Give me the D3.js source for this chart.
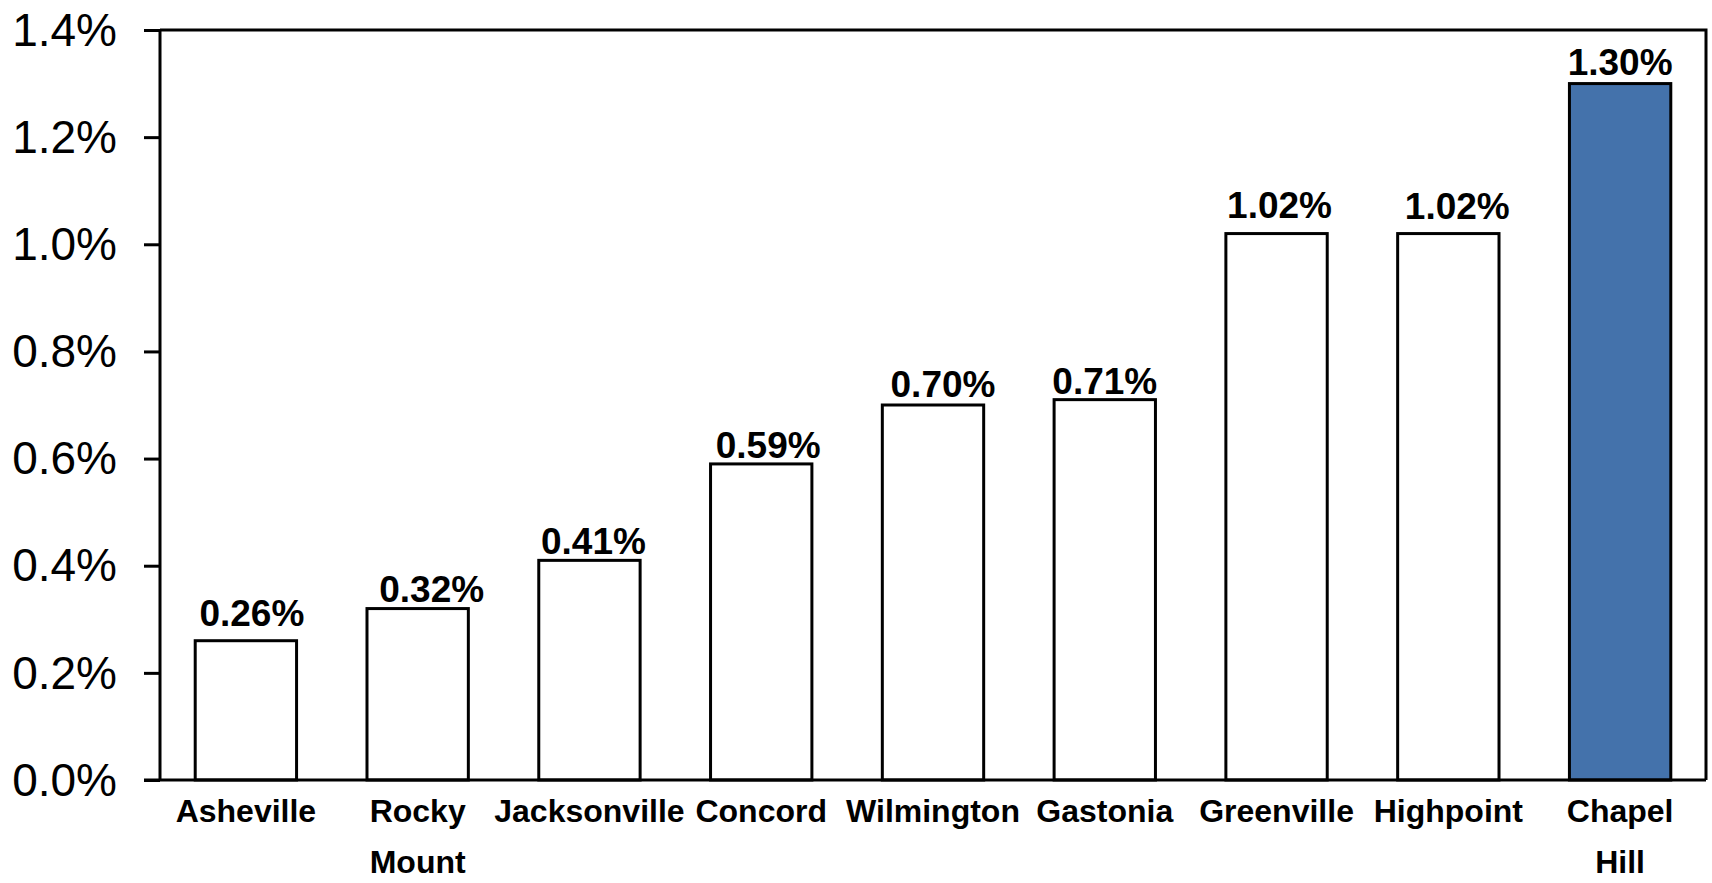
<!DOCTYPE html>
<html>
<head>
<meta charset="utf-8">
<script src="https://cdn.jsdelivr.net/npm/d3@7/dist/d3.min.js"></script>
<style>
  html, body { margin: 0; padding: 0; background: #ffffff; }
  svg { display: block; font-family: "Liberation Sans", Arial, sans-serif; }
</style>
</head>
<body>
<svg id="chart" width="1712" height="883"></svg>
<script>
// Annual rate by city (percent)
const cities = ["Asheville", "Rocky Mount", "Jacksonville", "Concord", "Wilmington",
                "Gastonia", "Greenville", "Highpoint", "Chapel Hill"];
const rates = [0.26, 0.32, 0.41, 0.59, 0.70, 0.71, 1.02, 1.02, 1.30];
const yTicks = [0, 0.2, 0.4, 0.6, 0.8, 1.0, 1.2, 1.4];
const highlightCity = "Chapel Hill";

// Layout
const W = 1712, H = 883;
const plot = { left: 160, top: 30, right: 1706, bottom: 780 };
// small hand placement of the value labels above each bar (px)
const valueLabelDx = [6, 14, 4, 7, 10, 0, 3, 9, 0];
const valueLabelGap = [15, 7, 6, 6, 8, 6, 16, 15, 9];

const svg = d3.select("#chart");

const x = d3.scaleBand()
  .domain(cities)
  .range([plot.left, plot.right])
  .paddingInner(0.41)
  .paddingOuter(0.205);

const y = d3.scaleLinear()
  .domain([0, 1.4])
  .range([plot.bottom, plot.top]);

// Plot frame (top and right edges)
svg.append("path")
  .attr("d", `M${plot.left},${plot.top}H${plot.right}V${plot.bottom}`)
  .attr("fill", "none")
  .attr("stroke", "#000")
  .attr("stroke-width", 3);

// Bars
svg.append("g")
  .selectAll("rect")
  .data(cities)
  .join("rect")
  .attr("x", d => x(d))
  .attr("width", x.bandwidth())
  .attr("y", (d, i) => y(rates[i]))
  .attr("height", (d, i) => y(0) - y(rates[i]))
  .attr("fill", d => d === highlightCity ? "#4472ab" : "#ffffff")
  .attr("stroke", "#000")
  .attr("stroke-width", 3);

// Value labels
svg.append("g")
  .selectAll("text")
  .data(cities)
  .join("text")
  .attr("x", (d, i) => x(d) + x.bandwidth() / 2 + valueLabelDx[i])
  .attr("y", (d, i) => y(rates[i]) - valueLabelGap[i])
  .attr("text-anchor", "middle")
  .attr("font-size", 37)
  .attr("font-weight", "bold")
  .attr("fill", "#000")
  .text((d, i) => rates[i].toFixed(2) + "%");

// Y axis
const yAxis = svg.append("g")
  .attr("transform", `translate(${plot.left},0)`)
  .call(d3.axisLeft(y)
    .tickValues(yTicks)
    .tickSize(16)
    .tickPadding(27)
    .tickFormat(d => d.toFixed(1) + "%"));
yAxis.select(".domain")
  .attr("stroke", "#000")
  .attr("stroke-width", 3)
  .attr("d", `M0,${plot.top}V${plot.bottom}`);
yAxis.selectAll(".tick line").attr("stroke", "#000").attr("stroke-width", 3);
yAxis.selectAll(".tick text")
  .attr("font-family", "'Liberation Sans', Arial, sans-serif")
  .attr("font-size", 46)
  .attr("fill", "#000")
  .attr("dy", "0.33em");

// X axis
const xAxis = svg.append("g")
  .attr("transform", `translate(0,${plot.bottom})`)
  .call(d3.axisBottom(x).tickSize(0).tickPadding(0));
xAxis.select(".domain")
  .attr("stroke", "#000")
  .attr("stroke-width", 3)
  .attr("d", `M${plot.left - 16},0H${plot.right}`);
xAxis.selectAll(".tick text").remove();

// Category labels; two-word names go on two lines
xAxis.selectAll(".tick").each(function (d) {
  const t = d3.select(this).append("text")
    .attr("text-anchor", "middle")
    .attr("font-family", "'Liberation Sans', Arial, sans-serif")
    .attr("font-size", 32)
    .attr("font-weight", "bold")
    .attr("fill", "#000");
  d.split(" ").forEach((w, k) => {
    t.append("tspan")
      .attr("x", 0)
      .attr("y", 42 + k * 51)
      .text(w);
  });
});
</script>
</body>
</html>
